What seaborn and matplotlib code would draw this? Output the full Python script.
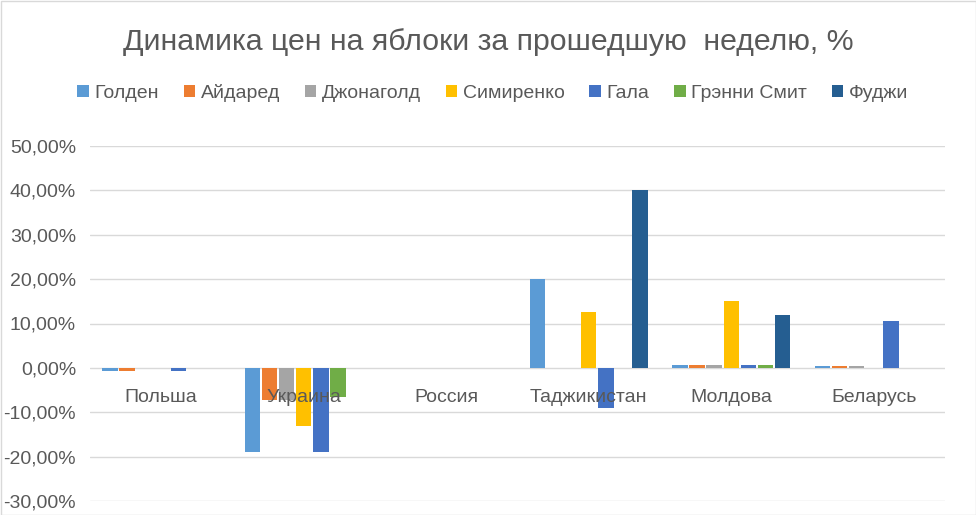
import matplotlib
matplotlib.use("Agg")
import matplotlib.pyplot as plt
import seaborn as sns
import pandas as pd
from matplotlib.ticker import FuncFormatter, MultipleLocator
from matplotlib.patches import Rectangle

countries = ["Польша", "Украина", "Россия", "Таджикистан", "Молдова", "Беларусь"]
varieties = ["Голден", "Айдаред", "Джонаголд", "Симиренко", "Гала", "Грэнни Смит", "Фуджи"]
golden     = [-0.8, -19.0, 0.0, 20.0, 0.6, 0.4]
aidared    = [-0.8, -7.2, 0.0, 0.0, 0.6, 0.4]
jonagold   = [0.0, -7.2, 0.0, 0.0, 0.6, 0.4]
simirenko  = [0.0, -13.0, 0.0, 12.5, 15.0, 0.0]
gala       = [-0.8, -19.0, 0.0, -9.0, 0.6, 10.5]
granny     = [0.0, -6.5, 0.0, 0.0, 0.6, 0.0]
fuji       = [0.0, 0.0, 0.0, 40.0, 12.0, 0.0]
colors = ["#5B9BD5", "#ED7D31", "#A5A5A5", "#FFC000", "#4472C4", "#70AD47", "#255E91"]
title = "Динамика цен на яблоки за прошедшую  неделю, %"

series = [golden, aidared, jonagold, simirenko, gala, granny, fuji]
rows = []
for v, vals in zip(varieties, series):
    for c, val in zip(countries, vals):
        rows.append({"country": c, "variety": v, "value": val})
df = pd.DataFrame(rows)

sns.set_theme(style="white")
plt.rcParams["font.family"] = ["Liberation Sans", "DejaVu Sans"]
txt = "#595959"

fig = plt.figure(figsize=(9.76, 5.15), dpi=100)
ax = fig.add_axes([90/976, 1 - 501/515, (945-90)/976, (501-146)/515])

sns.barplot(data=df, x="country", y="value", hue="variety", order=countries,
            hue_order=varieties, palette=colors, width=0.84, gap=0.1,
            saturation=1, linewidth=0, legend=True, ax=ax)

ax.set_ylim(-30, 50)
ax.set_xlim(-0.5, len(countries) - 0.5)
ax.yaxis.set_major_locator(MultipleLocator(10))
ax.yaxis.set_major_formatter(FuncFormatter(lambda v, p: f"{v:.2f}%".replace(".", ",")))
ax.grid(axis="y", color="#D9D9D9", linewidth=1)
ax.set_axisbelow(True)
ax.xaxis.set_zorder(5)
for s in ax.spines.values():
    s.set_visible(False)
ax.spines["bottom"].set_position(("data", 0))
ax.tick_params(axis="x", length=0, pad=15, labelsize=14, labelcolor=txt)
ax.tick_params(axis="y", length=0, pad=10, labelsize=14, labelcolor=txt)
ax.set_xlabel("")
ax.set_ylabel("")

handles, labels = ax.get_legend_handles_labels()
ax.get_legend().remove()
fig.legend(handles, labels, loc="center", bbox_to_anchor=(0.505, 1 - 93/515), ncol=7,
           frameon=False, fontsize=14, labelcolor=txt, handlelength=0.6, handleheight=0.6,
           handletextpad=0.3, columnspacing=1.25)

fig.text(0.5, 1 - 42/515, title, ha="center", va="center", fontsize=21.8, color=txt)

fig.patches.append(Rectangle((0.5/976, 0.5/515), 1 - 1/976, 1 - 1/515, transform=fig.transFigure,
                             fill=False, edgecolor="#D9D9D9", linewidth=1))

fig.savefig("out.png", dpi=100)
